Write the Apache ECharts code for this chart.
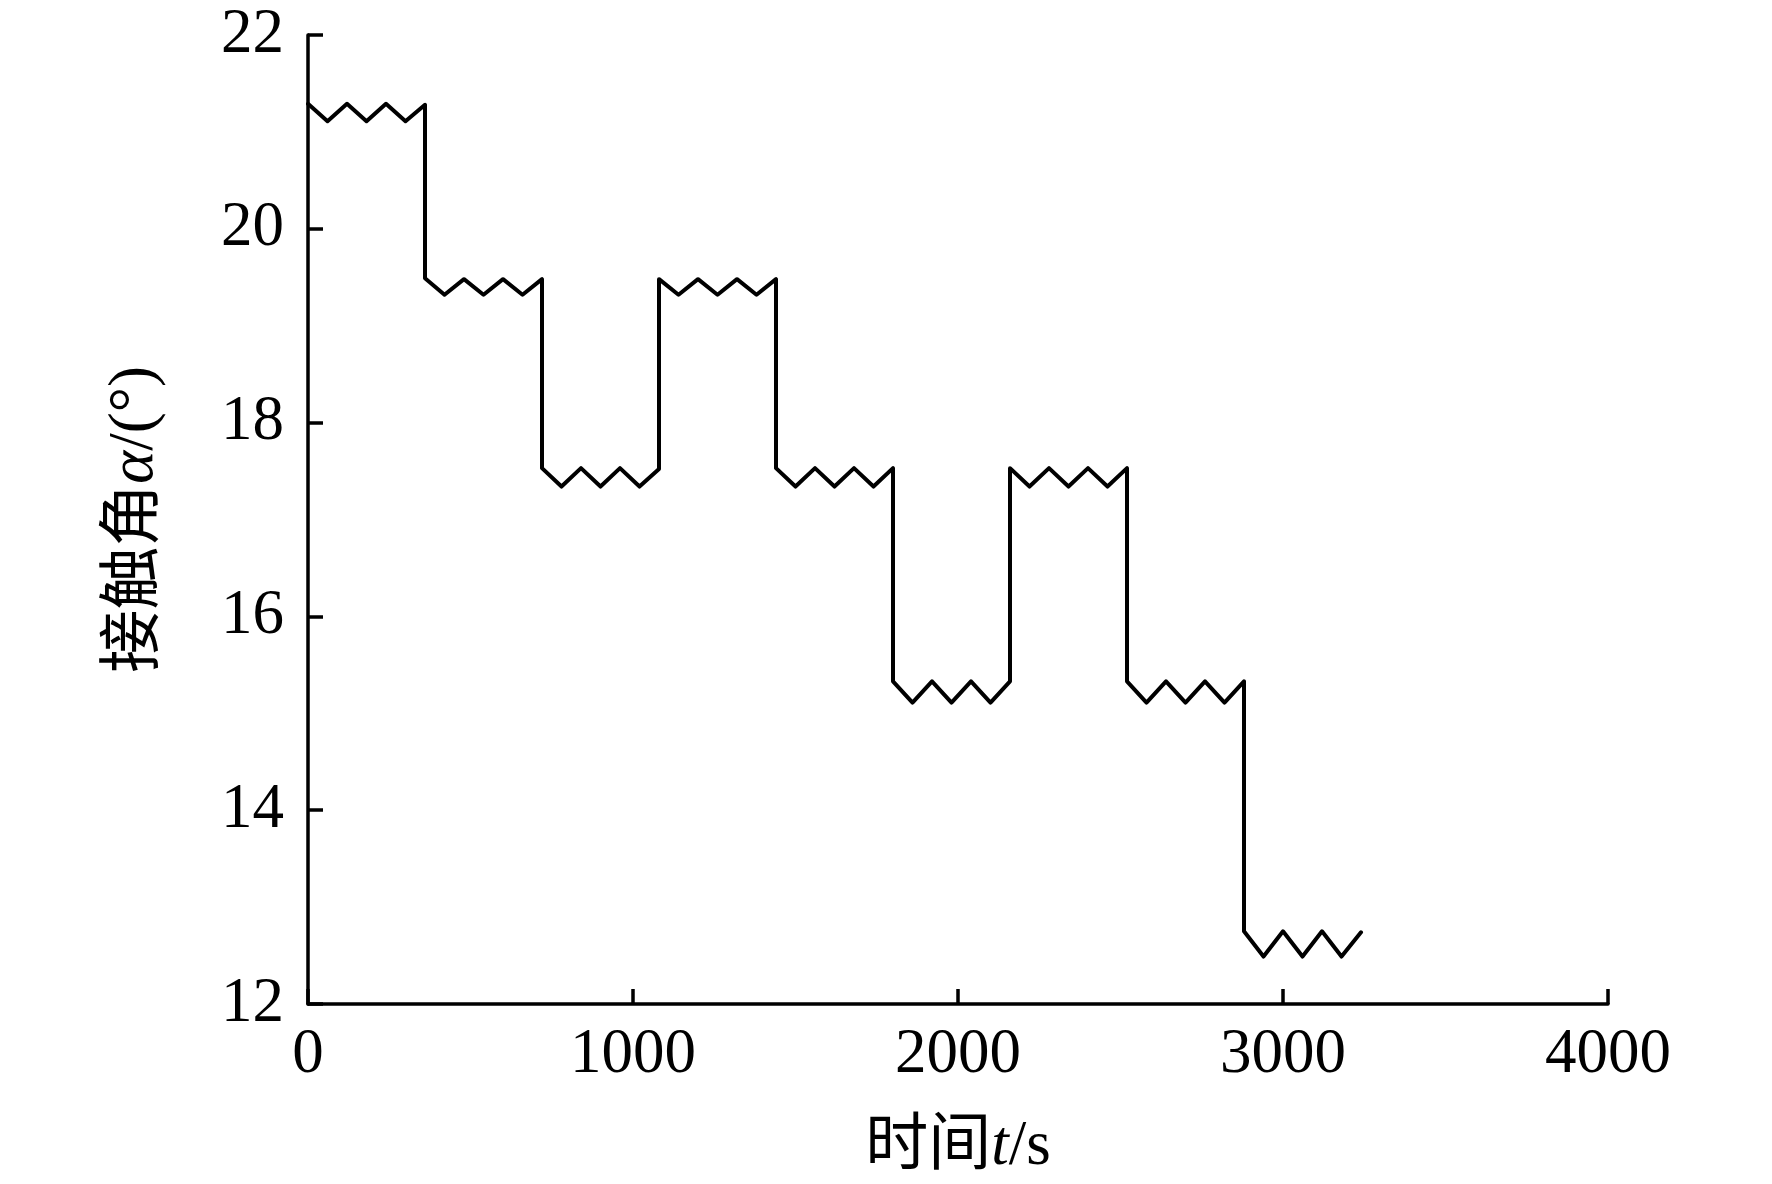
<!DOCTYPE html>
<html>
<head>
<meta charset="utf-8">
<script src="https://cdn.jsdelivr.net/npm/echarts@6/dist/echarts.min.js"></script>
<style>
html,body{margin:0;padding:0;background:#fff;}
#chart{width:1772px;height:1184px;}
</style>
</head>
<body>
<div id="chart"></div>
<script>
// Time points (s) of the contact-angle curve; repeated times give the vertical steps
var times = [
  0, 60, 120, 180, 240, 300, 360,
  360, 420, 480, 540, 600, 660, 720,
  720, 780, 840, 900, 960, 1020, 1080,
  1080, 1140, 1200, 1260, 1320, 1380, 1440,
  1440, 1500, 1560, 1620, 1680, 1740, 1800,
  1800, 1860, 1920, 1980, 2040, 2100, 2160,
  2160, 2220, 2280, 2340, 2400, 2460, 2520,
  2520, 2580, 2640, 2700, 2760, 2820, 2880,
  2880, 2940, 3000, 3060, 3120, 3180, 3240
];
// Contact angle α (°)
var angles = [
  21.29, 21.11, 21.29, 21.11, 21.29, 21.11, 21.28,
  19.49, 19.32, 19.48, 19.32, 19.48, 19.32, 19.48,
  17.53, 17.34, 17.53, 17.34, 17.53, 17.34, 17.52,
  19.48, 19.32, 19.48, 19.32, 19.48, 19.32, 19.48,
  17.53, 17.34, 17.53, 17.34, 17.53, 17.34, 17.53,
  15.33, 15.11, 15.33, 15.11, 15.33, 15.11, 15.33,
  17.53, 17.34, 17.53, 17.34, 17.53, 17.34, 17.53,
  15.33, 15.11, 15.33, 15.11, 15.33, 15.11, 15.33,
  12.75, 12.49, 12.75, 12.49, 12.75, 12.49, 12.74
];
var xTicks = [0, 1000, 2000, 3000, 4000];
var yTicks = [12, 14, 16, 18, 20, 22];

var points = times.map(function (t, i) { return [t, angles[i]]; });
var FONT = '"Liberation Serif", "Noto Sans CJK SC", serif';
var FS = 63;
var plain = function (v) { return String(v); };

var chart = echarts.init(document.getElementById('chart'), null, {renderer: 'canvas'});
chart.setOption({
  animation: false,
  backgroundColor: '#fff',
  grid: {left: 308, right: 164, top: 35, bottom: 179, containLabel: false},
  xAxis: {
    type: 'value',
    min: xTicks[0], max: xTicks[xTicks.length - 1], interval: 1000,
    name: '{a|时间}{i|t}{a|/s}',
    nameLocation: 'middle',
    nameGap: 112,
    nameTextStyle: {
      color: '#000', fontSize: FS, fontFamily: FONT,
      rich: {
        a: {color: '#000', fontSize: FS, fontFamily: FONT},
        i: {color: '#000', fontSize: FS, fontFamily: FONT, fontStyle: 'italic'}
      }
    },
    axisLine: {show: true, onZero: false, lineStyle: {color: '#000', width: 3.5}},
    axisTick: {show: true, inside: true, length: 15, lineStyle: {color: '#000', width: 3.5}},
    axisLabel: {color: '#000', fontSize: FS, fontFamily: FONT, margin: 20, formatter: plain},
    splitLine: {show: false}
  },
  yAxis: {
    type: 'value',
    min: yTicks[0], max: yTicks[yTicks.length - 1], interval: 2,
    name: '{a|接触角}{i|α}{a|/(°)}',
    nameLocation: 'middle',
    nameGap: 141,
    nameRotate: 90,
    nameTextStyle: {
      color: '#000', fontSize: FS, fontFamily: FONT,
      rich: {
        a: {color: '#000', fontSize: FS, fontFamily: FONT},
        i: {color: '#000', fontSize: FS, fontFamily: FONT, fontStyle: 'italic'}
      }
    },
    axisLine: {show: true, onZero: false, lineStyle: {color: '#000', width: 3.5}},
    axisTick: {show: true, inside: true, length: 15, lineStyle: {color: '#000', width: 3.5}},
    axisLabel: {color: '#000', fontSize: FS, fontFamily: FONT, margin: 24, formatter: plain},
    splitLine: {show: false}
  },
  series: [{
    type: 'line',
    data: points,
    showSymbol: false,
    symbol: 'none',
    smooth: false,
    lineStyle: {color: '#000', width: 4, join: 'round', cap: 'round'}
  }]
});
</script>
</body>
</html>
